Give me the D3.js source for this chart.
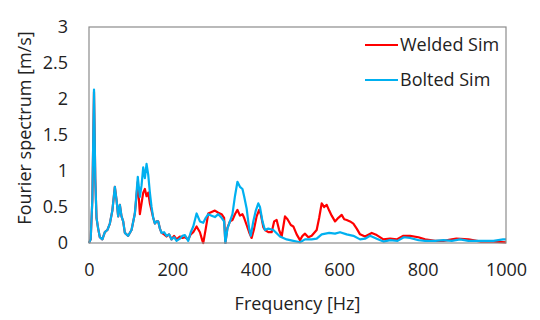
<!DOCTYPE html>
<html>
<head>
<meta charset="utf-8">
<script src="https://cdn.jsdelivr.net/npm/d3@7"></script>
<style>
  body { margin: 0; background: #fff; }
  text { font-family: "Open Sans", sans-serif; fill: #222; }
</style>
</head>
<body>
<div id="chart"></div>
<script>
// data
const xTicks = [0, 200, 400, 600, 800, 1000];
const yTicks = [0, 0.5, 1, 1.5, 2, 2.5, 3];
const seriesNames = ["Welded Sim", "Bolted Sim"];

const weldedFreq = [0, 4, 8, 12, 15, 18, 22, 26, 32, 38, 44, 50, 56, 62, 66, 70, 74, 78, 82, 86, 94, 102, 110, 117, 122, 126, 130, 134, 138, 142, 146, 150, 154, 158, 162, 166, 170, 174, 180, 186, 192, 198, 204, 210, 218, 224, 230, 238, 244, 250, 258, 266, 272, 274, 280, 286, 294, 302, 310, 318, 324, 327, 332, 338, 344, 350, 356, 362, 368, 372, 378, 384, 390, 396, 402, 408, 412, 418, 422, 430, 438, 444, 450, 456, 462, 470, 476, 484, 490, 498, 506, 512, 518, 526, 534, 546, 552, 558, 564, 570, 576, 582, 590, 598, 606, 612, 618, 626, 634, 642, 650, 662, 678, 690, 706, 722, 738, 754, 770, 790, 806, 830, 850, 870, 881, 910, 940, 970, 1000];
const weldedVal = [0, 0.05, 0.6, 2.1, 0.9, 0.35, 0.2, 0.08, 0.05, 0.15, 0.18, 0.27, 0.45, 0.78, 0.6, 0.37, 0.53, 0.37, 0.3, 0.14, 0.1, 0.18, 0.41, 0.85, 0.4, 0.55, 0.7, 0.75, 0.65, 0.7, 0.55, 0.45, 0.35, 0.27, 0.3, 0.3, 0.2, 0.14, 0.12, 0.09, 0.12, 0.05, 0.1, 0.05, 0.09, 0.07, 0.08, 0.05, 0.12, 0.15, 0.23, 0.15, 0.03, 0, 0.2, 0.41, 0.43, 0.45, 0.42, 0.4, 0.35, 0, 0.21, 0.3, 0.32, 0.4, 0.46, 0.38, 0.4, 0.35, 0.25, 0.15, 0.07, 0.2, 0.37, 0.46, 0.4, 0.22, 0.18, 0.15, 0.15, 0.3, 0.32, 0.18, 0.09, 0.37, 0.33, 0.25, 0.23, 0.12, 0.04, 0.1, 0.13, 0.08, 0.1, 0.18, 0.35, 0.55, 0.5, 0.53, 0.45, 0.38, 0.3, 0.35, 0.39, 0.33, 0.32, 0.3, 0.27, 0.2, 0.12, 0.09, 0.14, 0.11, 0.05, 0.06, 0.05, 0.1, 0.1, 0.08, 0.05, 0.03, 0.03, 0.05, 0.06, 0.05, 0.02, 0.02, 0.01];

const boltedFreq = [0, 4, 8, 12, 15, 18, 22, 26, 32, 38, 44, 50, 56, 62, 66, 70, 74, 78, 82, 86, 94, 102, 110, 117, 122, 126, 130, 134, 138, 142, 146, 150, 154, 158, 162, 166, 170, 174, 180, 186, 192, 198, 204, 210, 218, 224, 230, 238, 244, 250, 258, 266, 274, 280, 286, 294, 302, 310, 318, 324, 327, 332, 338, 344, 350, 356, 362, 368, 372, 378, 384, 388, 394, 400, 406, 410, 416, 422, 430, 442, 458, 474, 490, 506, 518, 534, 546, 558, 576, 590, 602, 618, 634, 650, 662, 674, 690, 706, 722, 740, 755, 770, 790, 806, 830, 850, 870, 890, 910, 930, 950, 970, 993, 1000];
const boltedVal = [0, 0.05, 0.6, 2.13, 0.9, 0.35, 0.2, 0.08, 0.05, 0.15, 0.18, 0.27, 0.45, 0.78, 0.6, 0.37, 0.53, 0.37, 0.3, 0.14, 0.1, 0.18, 0.41, 0.92, 0.64, 0.8, 1.05, 0.9, 1.1, 0.95, 0.7, 0.5, 0.35, 0.27, 0.3, 0.3, 0.2, 0.14, 0.15, 0.1, 0.12, 0.05, 0.08, 0.03, 0.06, 0.1, 0.11, 0.03, 0.15, 0.23, 0.41, 0.3, 0.28, 0.35, 0.4, 0.38, 0.36, 0.4, 0.35, 0.3, 0, 0.2, 0.3, 0.4, 0.65, 0.85, 0.78, 0.75, 0.65, 0.48, 0.2, 0.1, 0.3, 0.45, 0.55, 0.5, 0.3, 0.18, 0.2, 0.18, 0.09, 0.05, 0.03, 0.01, 0.05, 0.05, 0.06, 0.12, 0.14, 0.13, 0.15, 0.12, 0.1, 0.05, 0.06, 0.1, 0.06, 0.02, 0.04, 0.03, 0.08, 0.07, 0.04, 0.03, 0.03, 0.04, 0.03, 0.05, 0.03, 0.03, 0.03, 0.03, 0.05, 0.05];

const colors = ["#ff0000", "#00b0f0"];

const width = 540, height = 320;
const margin = { top: 27, right: 34, bottom: 77, left: 89 };
const innerW = width - margin.left - margin.right;
const innerH = height - margin.top - margin.bottom;
const fontSize = 18;

const svg = d3.select("#chart").append("svg")
  .attr("width", width)
  .attr("height", height);

const g = svg.append("g")
  .attr("transform", `translate(${margin.left}, ${margin.top})`);

const x = d3.scaleLinear().domain([0, 1000]).range([0, innerW]);
const y = d3.scaleLinear().domain([0, 3]).range([innerH, 0]);

// axes (labels only, no tick marks)
g.append("g")
  .attr("transform", `translate(0, ${innerH})`)
  .call(d3.axisBottom(x).tickValues(xTicks).tickSize(0).tickPadding(20).tickFormat(d => String(d)))
  .call(a => a.select(".domain").remove())
  .selectAll("text").attr("font-size", fontSize).attr("fill", "#222")
  .style("font-family", "'Open Sans', sans-serif");

g.append("g")
  .call(d3.axisLeft(y).tickValues(yTicks).tickSize(0).tickPadding(21).tickFormat(d => String(d)))
  .call(a => a.select(".domain").remove())
  .selectAll("text").attr("font-size", fontSize).attr("fill", "#222")
  .style("font-family", "'Open Sans', sans-serif");

// series
const line = d3.line()
  .x(d => x(d[0]))
  .y(d => y(d[1]));

const welded = weldedFreq.map((f, i) => [f, weldedVal[i]]);
const bolted = boltedFreq.map((f, i) => [f, boltedVal[i]]);

g.append("path")
  .datum(welded)
  .attr("fill", "none")
  .attr("stroke", colors[0])
  .attr("stroke-width", 2.2)
  .attr("stroke-linejoin", "round")
  .attr("d", line);

g.append("path")
  .datum(bolted)
  .attr("fill", "none")
  .attr("stroke", colors[1])
  .attr("stroke-width", 2.2)
  .attr("stroke-linejoin", "round")
  .attr("d", line);

// plot frame
g.append("rect")
  .attr("width", innerW)
  .attr("height", innerH)
  .attr("fill", "none")
  .attr("stroke", "#8c8c8c")
  .attr("stroke-width", 1.2);

// axis titles
svg.append("text")
  .attr("x", margin.left + innerW / 2)
  .attr("y", 310)
  .attr("text-anchor", "middle")
  .attr("font-size", fontSize)
  .text("Frequency [Hz]");

svg.append("text")
  .attr("transform", `translate(31, ${margin.top + innerH / 2 - 7}) rotate(-90)`)
  .attr("text-anchor", "middle")
  .attr("font-size", fontSize)
  .text("Fourier spectrum [m/s]");

// legend
const legend = svg.append("g").attr("transform", "translate(365, 45)");
seriesNames.forEach((name, i) => {
  const row = legend.append("g").attr("transform", `translate(0, ${i * 35})`);
  row.append("line")
    .attr("x1", 0).attr("x2", 33)
    .attr("stroke", colors[i]).attr("stroke-width", 2.2);
  row.append("text")
    .attr("x", 35).attr("dy", "0.35em")
    .attr("font-size", fontSize)
    .text(name);
});
</script>
</body>
</html>
